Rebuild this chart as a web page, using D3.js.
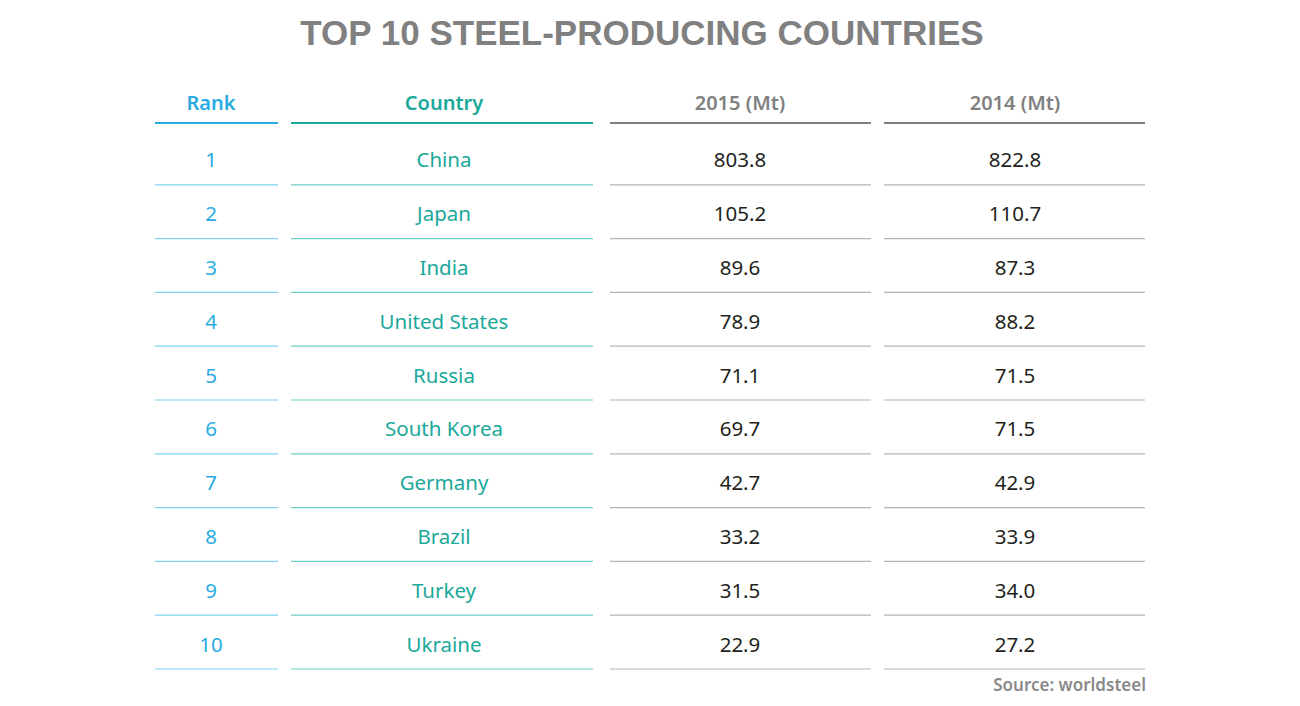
<!DOCTYPE html>
<html><head><meta charset="utf-8">
<script src="https://cdn.jsdelivr.net/npm/d3@7"></script>
<style>body{margin:0;background:#fff}svg{display:block}</style>
</head><body>
<svg id="chart" width="1300" height="706"></svg>
<script>
const title = "TOP 10 STEEL-PRODUCING COUNTRIES";
const headers = ["Rank", "Country", "2015 (Mt)", "2014 (Mt)"];
const ranks = ["1","2","3","4","5","6","7","8","9","10"];
const countries = ["China","Japan","India","United States","Russia","South Korea","Germany","Brazil","Turkey","Ukraine"];
const values2015 = [803.8,105.2,89.6,78.9,71.1,69.7,42.7,33.2,31.5,22.9];
const values2014 = [822.8,110.7,87.3,88.2,71.5,71.5,42.9,33.9,34.0,27.2];
const source = "Source: worldsteel";

const svg = d3.select("#chart");
const font = "'Noto Sans', 'Open Sans', sans-serif";

const cols = [
  {x0:155, x1:278, cx:211, head:"#29abe2", text:"#29abe2", line:"#7fd0f2", headLine:"#29abe2"},
  {x0:291, x1:593, cx:444, head:"#1aa89a", text:"#1aa89a", line:"#6fd0c6", headLine:"#1aa89a"},
  {x0:610, x1:871, cx:740, head:"#808080", text:"#231f20", line:"#b5b5b5", headLine:"#808080"},
  {x0:884, x1:1145, cx:1015, head:"#808080", text:"#231f20", line:"#b5b5b5", headLine:"#808080"}
];

const y = d3.scaleBand().domain(d3.range(ranks.length)).range([131, 669]);

svg.append("text").attr("x", 642).attr("y", 45).attr("text-anchor","middle")
  .attr("font-family","'Liberation Sans', Arial, sans-serif").attr("font-weight","bold")
  .attr("font-size", 35).attr("fill","#808080").text(title);

const fmt = d3.format(".1f");
const columnsData = [ranks, countries, values2015.map(fmt), values2014.map(fmt)];

cols.forEach((c, i) => {
  svg.append("text").attr("x", c.cx).attr("y", 110).attr("text-anchor","middle")
    .attr("font-family", font).attr("font-weight", 600).attr("font-size", 20)
    .attr("fill", c.head).text(headers[i]);
  svg.append("line").attr("x1", c.x0).attr("x2", c.x1).attr("y1", 123).attr("y2", 123)
    .attr("stroke", c.headLine).attr("stroke-width", 2);
  const g = svg.append("g");
  g.selectAll("text").data(columnsData[i]).join("text")
    .attr("x", c.cx).attr("y", (d, j) => y(j) + y.bandwidth()/2 + 9.5)
    .attr("text-anchor","middle").attr("font-family", font).attr("font-size", 20.5)
    .attr("fill", c.text).text(d => d);
  g.selectAll("line").data(columnsData[i]).join("line")
    .attr("x1", c.x0).attr("x2", c.x1)
    .attr("y1", (d, j) => y(j) + y.bandwidth()).attr("y2", (d, j) => y(j) + y.bandwidth())
    .attr("stroke", c.line).attr("stroke-width", 1.2);
});

svg.append("text").attr("x", 1146).attr("y", 691).attr("text-anchor","end")
  .attr("font-family", font).attr("font-weight", 600).attr("font-size", 17)
  .attr("fill","#8a8a8a").text(source);
</script>
</body></html>
